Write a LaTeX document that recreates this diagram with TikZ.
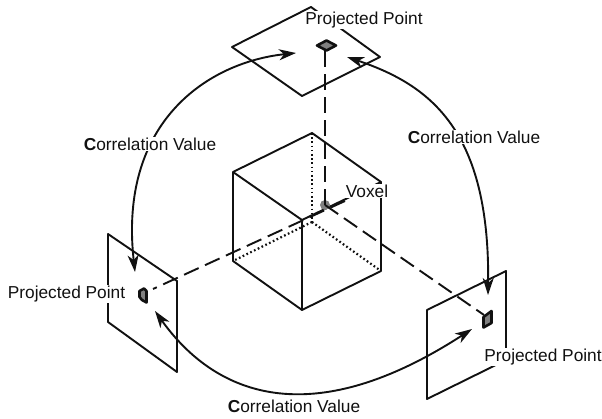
\documentclass[tikz,border=0pt]{standalone}
\usepackage{fontspec}
\setmainfont{Liberation Sans}
\usepackage{xcolor}
\usetikzlibrary{arrows.meta, positioning}
\definecolor{ink}{HTML}{111111}
\tikzset{
  edge/.style   ={draw=ink, line width=1.9pt, line join=round},
  hidden/.style ={draw=ink, line width=2.2pt, dash pattern=on 1.7pt off 2.5pt},
  ray/.style    ={draw=ink, line width=1.9pt, dash pattern=on 16pt off 7pt},
  flow/.style   ={{Stealth[length=17pt,width=11pt,inset=5pt]}-{Stealth[length=17pt,width=11pt,inset=5pt]}, draw=ink, line width=1.9pt},
  label/.style  ={font=\fontsize{17.3}{20}\selectfont, fill=white, inner sep=0.5pt, text=ink},
  spot/.style   ={fill=gray, draw=ink, line width=2.6pt, line join=round}
}
\begin{document}
\begin{tikzpicture}[x=1pt,y=-1pt]
  \useasboundingbox (0,0) rectangle (602,419);
  % cube corners
  \coordinate (ct) at (312,133);
  \coordinate (cl) at (233,172);
  \coordinate (cf) at (302,220);
  \coordinate (cr) at (381,182);
  \coordinate (cc) at (312,222);
  \coordinate (bl) at (233,261);
  \coordinate (bf) at (302,310);
  \coordinate (br) at (381,271);
  \coordinate (voxel) at (325,205);

  \draw[hidden] (ct) -- (cc);
  \draw[hidden] (cc) -- (bl);
  \draw[hidden] (cc) -- (br);
  \draw[edge] (ct) -- (cl) -- (bl) -- (bf) -- (br) -- (cr) -- cycle;
  \draw[edge] (cl) -- (cf) -- (cr);
  \draw[edge] (cf) -- (bf);
  \fill[gray] (voxel) circle (5);

  % planes
  \draw[edge] (311,7) -- (232,47) -- (302,96) -- (380,57) -- cycle;
  \draw[edge] (108,234) -- (177,281) -- (177,372) -- (108,322) -- cycle;
  \draw[edge] (506,271) -- (427,310) -- (427,399) -- (506,360) -- cycle;

  % projected points
  \draw[spot] (317,45.5) -- (326.5,40.5) -- (336,45.5) -- (326.5,50.5) -- cycle;
  \draw[spot] (139.5,291) -- (144,288.5) -- (146.5,291) -- (146.5,302.5) -- (142,300) -- (139.5,297) -- cycle;
  \draw[spot] (483.5,317) -- (491.5,311) -- (491.5,323) -- (483.5,327.5) -- cycle;

  % ray ends
  \coordinate (rtop)   at (325,51);
  \coordinate (rleft)  at (153,289);
  \coordinate (rright) at (484,315);
  \coordinate (rvox)   at (345,201);
  \draw[ray] (voxel) -- (rtop);
  \draw[ray] (rvox) -- (rleft);
  \draw[ray] (voxel) -- (rright);

  % correlations
  \coordinate (atop1) at (296,53);
  \coordinate (atop2) at (347,57);
  \coordinate (aleft1) at (135,272);
  \coordinate (aleft2) at (155,311);
  \coordinate (aright1) at (488,295);
  \coordinate (aright2) at (472,329);
  \draw[flow] (atop1) .. controls (210,62) and (118,120) .. (aleft1);
  \draw[flow] (atop2) .. controls (430,85) and (490,130) .. (aright1);
  \draw[flow] (aleft2) .. controls (215,395) and (310,434) .. (aright2);

  % labels
  \node[label] (ltop)   at (364,20)  {Projected Point};
  \node[label] (lleft)  at (66.5,294)  {Projected Point};
  \node[label] (lright) at (543,357) {Projected Point};
  \node[label] (lvox)   at (367,191) {Voxel};
  \node[label] (cleft)  at (150,144) {\textbf{C}orrelation Value};
  \node[label] (cright) at (474,137) {\textbf{C}orrelation Value};
  \node[label] (cbot)   at (294,406) {\textbf{C}orrelation Value};
\end{tikzpicture}
\end{document}
